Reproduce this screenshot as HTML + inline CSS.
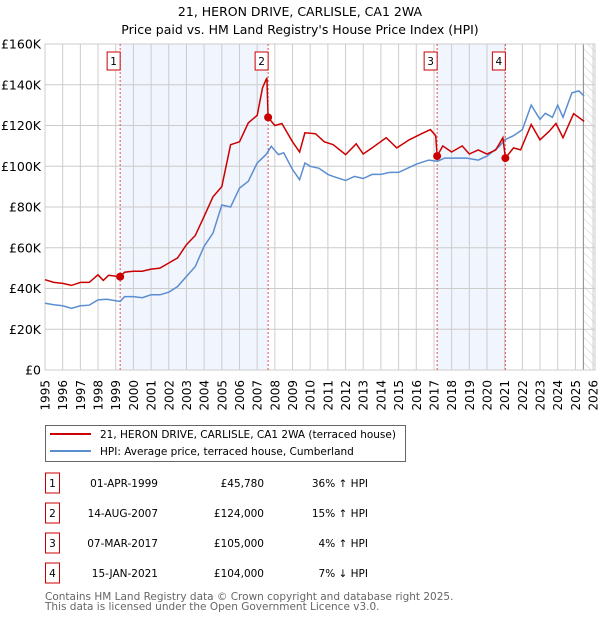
<!DOCTYPE html>
<html><head><meta charset="utf-8"><style>
body{margin:0;background:#fff;font-family:"Liberation Sans","DejaVu Sans",sans-serif;}
svg text{font-family:"DejaVu Sans","Liberation Sans",sans-serif;}
</style></head><body>
<svg id="chart" width="600" height="620" xmlns="http://www.w3.org/2000/svg">
<text x="300" y="16" text-anchor="middle" font-size="12.5" fill="#000">21, HERON DRIVE, CARLISLE, CA1 2WA</text>
<text x="300" y="34" text-anchor="middle" font-size="12.5" fill="#000">Price paid vs. HM Land Registry's House Price Index (HPI)</text>
<defs><pattern id="hatch" width="6" height="6" patternUnits="userSpaceOnUse" patternTransform="rotate(-45)"><line x1="0" y1="0" x2="0" y2="6" stroke="#ccc" stroke-width="1"/></pattern></defs>
<g id="plot"></g>
<g>
<rect x="45.5" y="425.5" width="360" height="36" fill="#fff" stroke="#666"/>
<line x1="50" y1="434" x2="91" y2="434" stroke="#cc0000" stroke-width="2"/>
<text x="100" y="438" font-size="10.5">21, HERON DRIVE, CARLISLE, CA1 2WA (terraced house)</text>
<line x1="50" y1="451" x2="91" y2="451" stroke="#5b8ed1" stroke-width="2"/>
<text x="100" y="455" font-size="10.5">HPI: Average price, terraced house, Cumberland</text>
</g>
<g id="table" font-size="10.5"></g>
<text x="45" y="600" font-size="10.5" fill="#666">Contains HM Land Registry data © Crown copyright and database right 2025.</text>
<text x="45" y="610" font-size="10.5" fill="#666">This data is licensed under the Open Government Licence v3.0.</text>
</svg>
<script>
const hpiYears=[1995,1995.5,1996,1996.5,1997,1997.5,1998,1998.5,1999,1999.25,1999.5,2000,2000.5,2001,2001.5,2002,2002.5,2003,2003.5,2004,2004.5,2005,2005.5,2006,2006.5,2007,2007.5,2007.8,2008.2,2008.5,2009,2009.4,2009.7,2010,2010.5,2011,2011.3,2012,2012.5,2013,2013.5,2014,2014.5,2015,2015.5,2016,2016.7,2017.2,2017.6,2018,2018.5,2018.85,2019.5,2020,2020.7,2021,2021.5,2022,2022.5,2023,2023.3,2023.7,2024,2024.3,2024.8,2025.2,2025.5];
const hpiValues=[32.8,32,31.5,30.3,31.5,31.8,34.4,34.7,34,33.6,36,36,35.5,36.9,36.9,38.2,41,45.9,50.8,60.7,67.2,81,80,89.3,92.6,101.6,105.7,109.8,105.7,106.6,98.4,93.4,101.6,100,99,96,95,93,95,94,96,96,97,97,99,101,103,102.5,104,104,104,104,103,105,109.8,113,115,118,130,123,126,124,130,124,136,137,134.4];
const redYears=[1995,1995.5,1996,1996.5,1997,1997.5,1998,1998.3,1998.6,1999.25,1999.5,2000,2000.5,2001,2001.5,2002,2002.5,2003,2003.5,2004,2004.5,2005,2005.5,2006,2006.5,2007,2007.3,2007.55,2007.62,2008,2008.4,2009,2009.4,2009.7,2010.3,2010.8,2011.3,2012,2012.6,2013,2013.5,2014.3,2014.9,2015.6,2016.3,2016.8,2017.1,2017.18,2017.5,2018,2018.6,2019,2019.5,2020,2020.5,2020.9,2021.04,2021.5,2021.9,2022.5,2023,2023.5,2023.9,2024.3,2024.9,2025.5];
const redValues=[44.3,43,42.5,41.5,43,43,46.7,44,46.5,45.78,48,48.5,48.5,49.5,50,52.5,55,61.5,66,75.4,85,90,110.6,112,121.3,125,138.5,143.4,124,120,121,112,107,116.4,116,112,110.6,105.7,111,106,109,114,109,113,116,118,115,105,110,107,110,106,108,106,108,114,104,109,108,120.5,113,117,121,114,125.8,122];
const saleYears=[1999.25,2007.62,2017.18,2021.04];
const saleValues=[45.78,124,105,104];
const saleLabels=["1","2","3","4"];
const saleDates=["01-APR-1999","14-AUG-2007","07-MAR-2017","15-JAN-2021"];
const salePrices=["£45,780","£124,000","£105,000","£104,000"];
const saleHpi=["36% ↑ HPI","15% ↑ HPI","4% ↑ HPI","7% ↓ HPI"];
const yTicks=[0,20,40,60,80,100,120,140,160];
const yTickLabels=["£0","£20K","£40K","£60K","£80K","£100K","£120K","£140K","£160K"];
const xTicks=[1995,1996,1997,1998,1999,2000,2001,2002,2003,2004,2005,2006,2007,2008,2009,2010,2011,2012,2013,2014,2015,2016,2017,2018,2019,2020,2021,2022,2023,2024,2025,2026];

const NS="http://www.w3.org/2000/svg";
const L=45,R=595,T=44,B=370;
const xs=y=>L+(y-1995)*17.68;
const ys=v=>B-v/160*(B-T);
const plot=document.getElementById('plot');
function mk(tag,attrs,parent){const e=document.createElementNS(NS,tag);for(const k in attrs)e.setAttribute(k,attrs[k]);(parent||plot).appendChild(e);return e;}
for(let i=0;i<saleYears.length;i+=2){
  const r=mk('rect',{x:xs(saleYears[i]),y:T,width:xs(saleYears[i+1])-xs(saleYears[i]),height:B-T,fill:'#eef3fc',opacity:0.8});
  
  
}
const hx=xs(2025.45);
const hr=mk('rect',{x:hx,y:T,width:R-hx,height:B-T,fill:'url(#hatch)'});


xTicks.forEach(t=>{
  const g=mk('line',{x1:xs(t),x2:xs(t),y1:T,y2:B,stroke:'#ccc','stroke-width':1});
  
  
  const px=xs(t)+4.5;
  const tx=mk('text',{x:px,y:380,'text-anchor':'end','font-size':12,transform:'rotate(-90 '+px+' 380)'});
  tx.textContent=t;
  
  
});
yTicks.forEach((t,i)=>{
  const g=mk('line',{x1:L,x2:R,y1:ys(t),y2:ys(t),stroke:'#ccc','stroke-width':1});
  
  
  const tx=mk('text',{x:L-4,y:ys(t)+4.5,'text-anchor':'end','font-size':12.5});
  tx.textContent=yTickLabels[i];
  
  
});
const ln=mk('line',{x1:hx,x2:hx,y1:T,y2:B,stroke:'#888','stroke-width':1});


const fr=mk('rect',{x:L,y:T,width:R-L,height:B-T,fill:'none',stroke:'#ccc'});


saleYears.forEach(y=>{
  const l=mk('line',{x1:xs(y),x2:xs(y),y1:T,y2:B,stroke:'#e05050','stroke-width':1,'stroke-dasharray':'2,2'});
  
  
});
function pts(xa,va){return xa.map((y,i)=>xs(y).toFixed(1)+','+ys(va[i]).toFixed(1)).join(' ');}
const hp=mk('polyline',{points:pts(hpiYears,hpiValues),fill:'none',stroke:'#5b8ed1','stroke-width':1.5});


const rp=mk('polyline',{points:pts(redYears,redValues),fill:'none',stroke:'#cc0000','stroke-width':1.5});


saleYears.forEach((y,i)=>{
  const c=mk('circle',{cx:xs(y),cy:ys(saleValues[i]),r:4,fill:'#cc0000'});
  
  
  const bx=mk('rect',{x:xs(y)-13,y:52,width:13,height:18,fill:'#fff',stroke:'#cc0000'});
  
  
  const t=mk('text',{x:xs(y)-6.5,y:65,'text-anchor':'middle','font-size':10.5});
  t.textContent=saleLabels[i];
  
  
});
const tb=document.getElementById('table');
saleLabels.forEach((lab,i)=>{
  const cy=483+i*30;
  const b=mk('rect',{x:45.5,y:cy-10,width:14,height:20,fill:'#fff',stroke:'#cc0000'},tb);
  
  
  const cols=[[52.5,lab,'middle','table-row-number'],[158,saleDates[i],'end','table-date'],[264,salePrices[i],'end','table-price'],[368,saleHpi[i],'end','table-hpi-change']];
  cols.forEach(c=>{
    const t=mk('text',{x:c[0],y:cy+4,'text-anchor':c[2]},tb);
    t.textContent=c[1];
    
    
  });
});
</script>
</body></html>
